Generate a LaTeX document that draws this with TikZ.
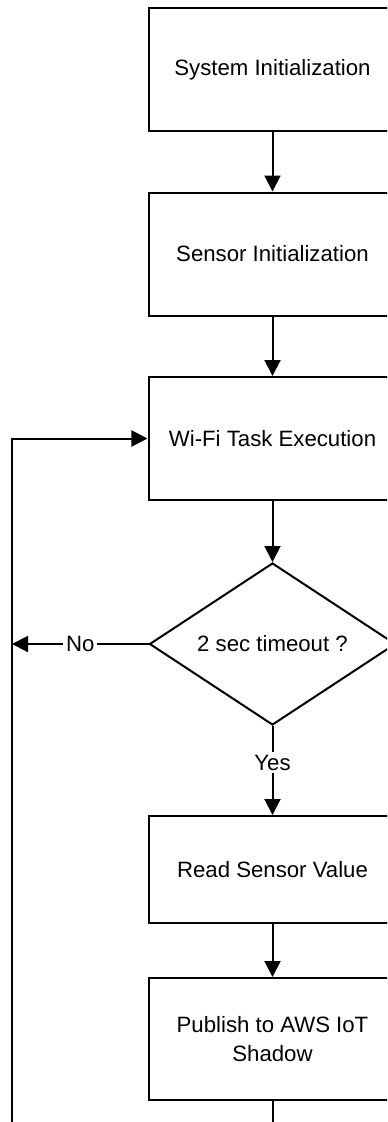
\documentclass[tikz,border=0pt]{standalone}
\usepackage{fontspec}
\setmainfont{Liberation Sans}
\usetikzlibrary{shapes.geometric,arrows.meta}
\begin{document}
\begin{tikzpicture}[x=1bp,y=-1bp,
  every node/.style={font=\fontsize{22.2bp}{29bp}\selectfont},
  procbox/.style={draw, line width=2bp, minimum width=248bp, inner sep=0pt, align=center},
  decide/.style={draw, diamond, aspect=1.52, line width=2bp, minimum width=246bp, minimum height=162bp, inner sep=0pt},
  arr/.style={line width=2bp, -{Triangle[width=16bp,length=16bp]}},
  lbl/.style={fill=white, inner sep=3bp}]
\useasboundingbox (0,0) rectangle (387,1122);
\clip (0,0) rectangle (387,1122);
\node[procbox, minimum height=123bp] (b1) at (272.5,69.5) {System Initialization};
\node[procbox, minimum height=123bp] (b2) at (272.5,254) {Sensor Initialization};
\node[procbox, minimum height=123bp] (b3) at (272.5,438.5) {Wi-Fi Task Execution};
\node[decide] (d) at (272.5,644) {2 sec timeout ?};
\node[procbox, minimum height=107bp] (b4) at (272.5,869.5) {Read Sensor Value};
\node[procbox, minimum height=122bp] (b5) at (272.5,1039) {Publish to AWS IoT\\Shadow};
\coordinate (lb) at (12,1145);
\draw[arr] (b1) -- (b2);
\draw[arr] (b2) -- (b3);
\draw[arr] (b3) -- (d);
\draw[arr] (d.south) -- (b4.north) node[lbl, pos=0.41] {Yes};
\draw[arr] (b4) -- (b5);
\draw[arr] (d.west) -- (d.west -| lb) node[lbl, pos=0.5] {No};
\draw[arr] (b5.south) |- (lb) |- (b3.west);
\end{tikzpicture}
\end{document}
